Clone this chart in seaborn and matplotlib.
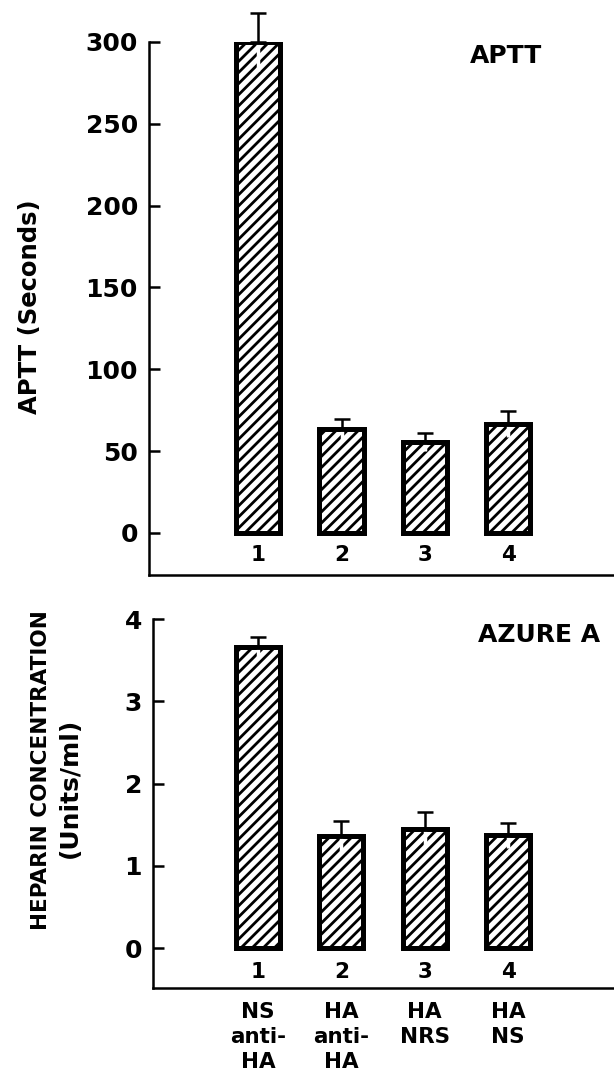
import matplotlib
matplotlib.use("Agg")
import matplotlib.pyplot as plt
from matplotlib.patches import Rectangle
import pandas as pd
import seaborn as sns

# data
groups = ["1", "2", "3", "4"]
group_names = ["NS\nanti-\nHA", "HA\nanti-\nHA", "HA\nNRS", "HA\nNS"]
aptt_mean = [300, 63.5, 55.5, 66.5]
aptt_err = [18, 6, 5.5, 8]
heparin_mean = [3.66, 1.36, 1.45, 1.37]
heparin_err = [0.12, 0.18, 0.20, 0.15]
aptt_ticks = [0, 50, 100, 150, 200, 250, 300]
heparin_ticks = [0, 1, 2, 3, 4]

sns.set_style("ticks")
plt.rcParams['font.family'] = ['DejaVu Sans']
plt.rcParams['font.weight'] = 'bold'
plt.rcParams['text.color'] = 'black'
plt.rcParams['axes.edgecolor'] = 'black'
plt.rcParams['axes.labelcolor'] = 'black'
plt.rcParams['xtick.color'] = 'black'
plt.rcParams['ytick.color'] = 'black'
plt.rcParams['hatch.linewidth'] = 2.0
plt.rcParams['hatch.color'] = 'black'


def draw_panel(ax, means, errs, ylim, xlim, ticks, num_y):
    df = pd.DataFrame({"group": groups, "value": means})
    sns.barplot(data=df, x="group", y="value", ax=ax, color="white",
                edgecolor="black", linewidth=3.5, width=0.53, hatch="///",
                errorbar=None, saturation=1)
    xs = list(range(len(groups)))
    zeros = [0] * len(errs)
    # lower half of the error bar shows as a white gap in the hatching
    ax.errorbar(xs, means, yerr=[errs, zeros], fmt="none", ecolor="white",
                elinewidth=2.5, capsize=0, zorder=3)
    for p in list(ax.patches):
        ax.add_patch(Rectangle(p.get_xy(), p.get_width(), p.get_height(),
                               fill=False, ec="black", lw=3.5, zorder=4))
    ax.errorbar(xs, means, yerr=[zeros, errs], fmt="none", ecolor="black",
                elinewidth=1.8, capsize=5.5, capthick=1.8, zorder=5,
                clip_on=False)

    ax.set_ylim(ylim)
    ax.set_xlim(xlim)
    ax.set_yticks(ticks)
    ax.set_yticklabels([str(t) for t in ticks])
    ax.set_xlabel("")
    ax.set_ylabel("")
    sns.despine(ax=ax)
    for s in ["left", "bottom"]:
        ax.spines[s].set_linewidth(1.8)
    ax.tick_params(axis="y", direction="in", length=8, width=1.8,
                   labelsize=18, pad=8)
    ax.tick_params(axis="x", length=0)
    # bar numbers sit inside the axes, above the baseline
    for i, g in enumerate(groups):
        ax.text(i, num_y, g, transform=ax.get_xaxis_transform(),
                ha="center", va="center", fontsize=15.5)


fig = plt.figure(figsize=(6.14, 10.71), dpi=100)
ax1 = fig.add_axes([0.2427, 0.4631, 0.7573, 0.4977])
ax2 = fig.add_axes([0.2492, 0.0775, 0.7508, 0.3445])

draw_panel(ax1, aptt_mean, aptt_err, (-25.7, 300), (-1.31, 4.27), aptt_ticks, 0.0375)
ax1.set_xticklabels([])

draw_panel(ax2, heparin_mean, heparin_err, (-0.486, 4), (-1.26, 4.27), heparin_ticks, 0.043)
ax2.set_xticks(range(len(groups)))
ax2.set_xticklabels(group_names, fontsize=15.5, linespacing=1.33, va="top")
ax2.tick_params(axis="x", pad=10)

fig.text(470 / 614, 1 - 56 / 1071, "APTT", ha="left", va="center", fontsize=18)
fig.text(478 / 614, 1 - 635 / 1071, "AZURE A", ha="left", va="center", fontsize=18)

fig.text(30 / 614, 1 - 307 / 1071, "APTT (Seconds)", rotation=90,
         ha="center", va="center", fontsize=17.5)
fig.text(41 / 614, 1 - 770 / 1071, "HEPARIN CONCENTRATION", rotation=90,
         ha="center", va="center", fontsize=15.5)
fig.text(70 / 614, 1 - 788 / 1071, "(Units/ml)", rotation=90,
         ha="center", va="center", fontsize=18)

fig.savefig("out.png", dpi=100)
